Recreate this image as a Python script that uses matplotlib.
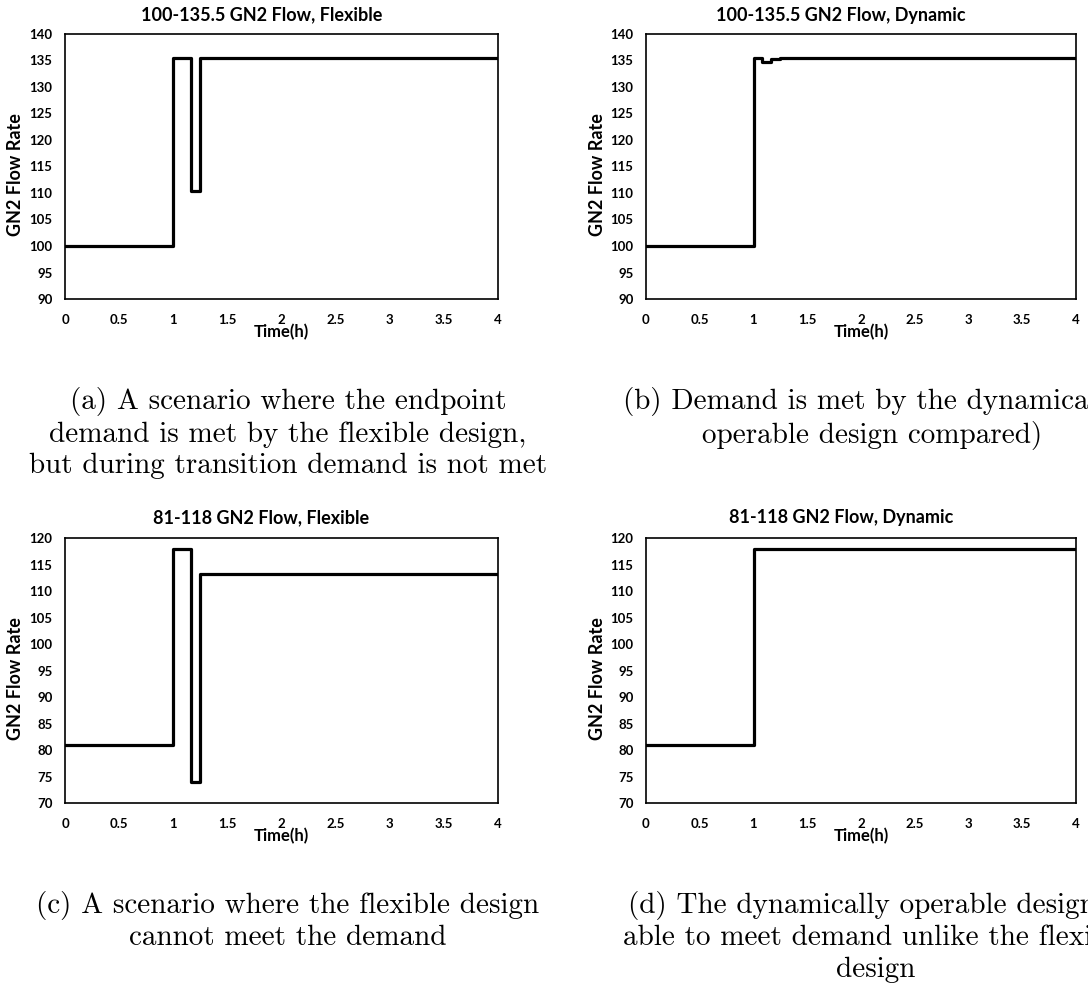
import matplotlib
matplotlib.use("Agg")
import matplotlib.pyplot as plt
from matplotlib.ticker import MultipleLocator, FuncFormatter

# series de caudal GN2 (tiempo en horas, escalones)
t_flex_a = [0, 1, 1.167, 1.25, 4]
q_flex_a = [100, 135.5, 110.3, 135.5, 135.5]

t_dyn_b = [0, 1, 1.083, 1.167, 1.25, 4]
q_dyn_b = [100, 135.5, 134.8, 135.3, 135.5, 135.5]

t_flex_c = [0, 1, 1.167, 1.25, 4]
q_flex_c = [81, 118, 74, 113.2, 113.2]

t_dyn_d = [0, 1, 4]
q_dyn_d = [81, 118, 118]

titulos = ["100-135.5 GN2 Flow, Flexible", "100-135.5 GN2 Flow, Dynamic",
           "81-118 GN2 Flow, Flexible", "81-118 GN2 Flow, Dynamic"]
rangos_y = [(90, 140), (90, 140), (70, 120), (70, 120)]

captions = [
    "(a) A scenario where the endpoint\ndemand is met by the flexible design,\nbut during transition demand is not met",
    "(b) Demand is met by the dynamically\noperable design compared)",
    "(c) A scenario where the flexible design\ncannot meet the demand",
    "(d) The dynamically operable design is\nable to meet demand unlike the flexible\ndesign",
]

W, H = 1088, 988
fig = plt.figure(figsize=(W / 100, H / 100), dpi=100)

SANS = "Lato"


def caja(x0, y0, x1, y1):
    # pixeles (desde arriba) a fracciones de figura
    return [x0 / W, 1 - y1 / H, (x1 - x0) / W, (y1 - y0) / H]


cajas = [caja(65, 34, 498, 299), caja(646, 34, 1076, 299),
         caja(65, 538, 498, 803), caja(646, 538, 1076, 803)]
centros_titulo = [(262, 15), (841, 15), (261, 518), (841, 518)]
centros_caption = [(288, 387), (872, 387), (288, 891), (876, 891)]

series = [(t_flex_a, q_flex_a), (t_dyn_b, q_dyn_b),
          (t_flex_c, q_flex_c), (t_dyn_d, q_dyn_d)]

for i, (tt, qq) in enumerate(series):
    ax = fig.add_axes(cajas[i])
    ax.step(tt, qq, where="post", color="black", linewidth=2.3)
    ax.set_xlim(0, 4)
    ax.set_ylim(*rangos_y[i])
    ax.xaxis.set_major_locator(MultipleLocator(0.5))
    ax.yaxis.set_major_locator(MultipleLocator(5))
    ax.xaxis.set_major_formatter(FuncFormatter(lambda v, p: f"{v:g}"))
    ax.tick_params(length=0, labelsize=9.5)
    ax.tick_params(axis="x", pad=11)
    ax.tick_params(axis="y", pad=9)
    for lab in ax.get_xticklabels() + ax.get_yticklabels():
        lab.set_fontfamily(SANS)
        lab.set_fontweight("bold")
    for s in ax.spines.values():
        s.set_linewidth(1.2)
    ax.set_xlabel("Time(h)", fontsize=12, fontweight="bold", family=SANS)
    ax.xaxis.set_label_coords(0.5, -0.095)
    ax.set_ylabel("GN2 Flow Rate", fontsize=13, fontweight="bold", family=SANS)
    ax.yaxis.set_label_coords(-0.094, 0.47)

    tx, ty = centros_titulo[i]
    fig.text(tx / W, 1 - ty / H, titulos[i], ha="center", va="center",
             fontsize=13, fontweight="bold", family=SANS)

    # el texto que pasa del borde derecho queda recortado por la figura
    cx, cy = centros_caption[i]
    fig.text(cx / W, 1 - cy / H, captions[i], ha="center", va="top",
             multialignment="center", fontsize=21, family="cmr10",
             linespacing=1.25)

fig.savefig("out.png", dpi=100)
